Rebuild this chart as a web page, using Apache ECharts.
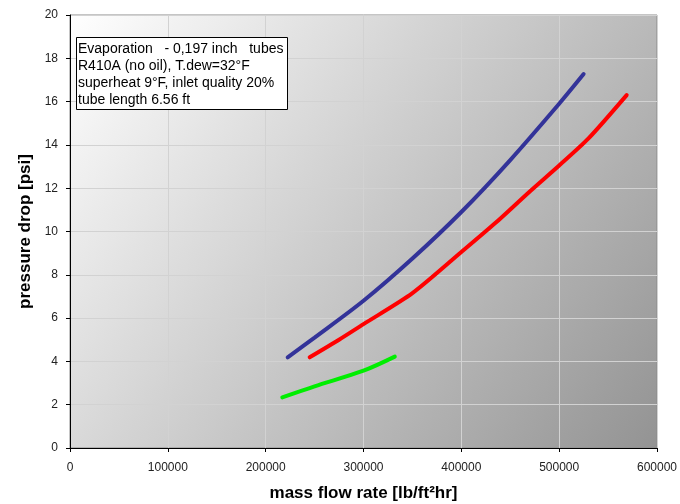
<!DOCTYPE html>
<html>
<head>
<meta charset="utf-8">
<script src="https://cdn.jsdelivr.net/npm/echarts@6/dist/echarts.min.js"></script>
<style>html,body{margin:0;padding:0;background:#fff}#c{width:680px;height:504px}</style>
</head>
<body>
<div id="c"></div>
<script>
var xTicks = [0, 100000, 200000, 300000, 400000, 500000, 600000];
var yTicks = [0, 2, 4, 6, 8, 10, 12, 14, 16, 18, 20];
var blueSeries = [[222500,4.19],[250000,5.1],[300000,6.8],[350000,8.75],[400000,10.9],[450000,13.3],[500000,15.9],[525000,17.27]];
var redSeries = [[245000,4.19],[275000,5.0],[300000,5.72],[350000,7.15],[400000,9.05],[435000,10.4],[470000,11.85],[500000,13.05],[530000,14.3],[569000,16.3]];
var greenSeries = [[217000,2.34],[250000,2.85],[300000,3.57],[332000,4.22]];
var noteLines = ['Evaporation   - 0,197 inch   tubes', 'R410A (no oil), T.dew=32°F', 'superheat 9°F, inlet quality 20%', 'tube length 6.56 ft'];

var chart = echarts.init(document.getElementById('c'), null, {renderer: 'canvas'});
var font = 'Arial, "Liberation Sans", sans-serif';
chart.setOption({
  animation: false,
  backgroundColor: '#fff',
  grid: {
    left: 70, right: 23, top: 15, bottom: 56,
    outerBoundsMode: 'none',
    containLabel: false,
    show: true,
    borderColor: '#8a8a8a', borderWidth: 1,
    backgroundColor: new echarts.graphic.LinearGradient(0, 0, 1, 1, [
      {offset: 0, color: '#ffffff'},
      {offset: 1, color: '#939393'}
    ])
  },
  xAxis: {
    type: 'value', min: xTicks[0], max: xTicks[xTicks.length-1], interval: 100000,
    name: 'mass flow rate [lb/ft²hr]', nameLocation: 'middle', nameGap: 37,
    nameTextStyle: {fontSize: 17, fontWeight: 'bold', color: '#000', fontFamily: font},
    axisLine: {show: true, lineStyle: {color: '#000', width: 1}},
    axisTick: {show: true, length: 4, lineStyle: {color: '#000'}},
    axisLabel: {fontSize: 12, color: '#222', fontFamily: font, margin: 14, formatter: function (v) { return String(v); }},
    splitLine: {show: true, lineStyle: {color: '#d2d2d2', width: 1}}
  },
  yAxis: {
    type: 'value', min: yTicks[0], max: yTicks[yTicks.length-1], interval: 2,
    name: 'pressure drop [psi]', nameLocation: 'middle', nameGap: 27,
    nameTextStyle: {fontSize: 17, fontWeight: 'bold', color: '#000', fontFamily: font},
    axisLine: {show: true, lineStyle: {color: '#000', width: 1}},
    axisTick: {show: true, length: 4, lineStyle: {color: '#000'}},
    axisLabel: {fontSize: 12, color: '#222', fontFamily: font, margin: 12},
    splitLine: {show: true, lineStyle: {color: '#d2d2d2', width: 1}}
  },
  series: [
    {type: 'line', data: blueSeries, smooth: 0.3, symbol: 'none', lineStyle: {color: '#333399', width: 4, cap: 'round'}},
    {type: 'line', data: redSeries, smooth: 0.25, symbol: 'none', lineStyle: {color: '#ff0000', width: 4, cap: 'round'}},
    {type: 'line', data: greenSeries, smooth: 0.3, symbol: 'none', lineStyle: {color: '#00ee00', width: 4, cap: 'round'}}
  ],
  graphic: [
    {type: 'rect', left: 76, top: 37, shape: {width: 211, height: 72}, style: {fill: '#fff', stroke: '#000', lineWidth: 1}, z: 100},
    {type: 'text', left: 78, top: 40, style: {text: noteLines.join('\n'), font: '14px ' + font, fill: '#000', lineHeight: 17.3}, z: 101}
  ]
});
</script>
</body>
</html>
